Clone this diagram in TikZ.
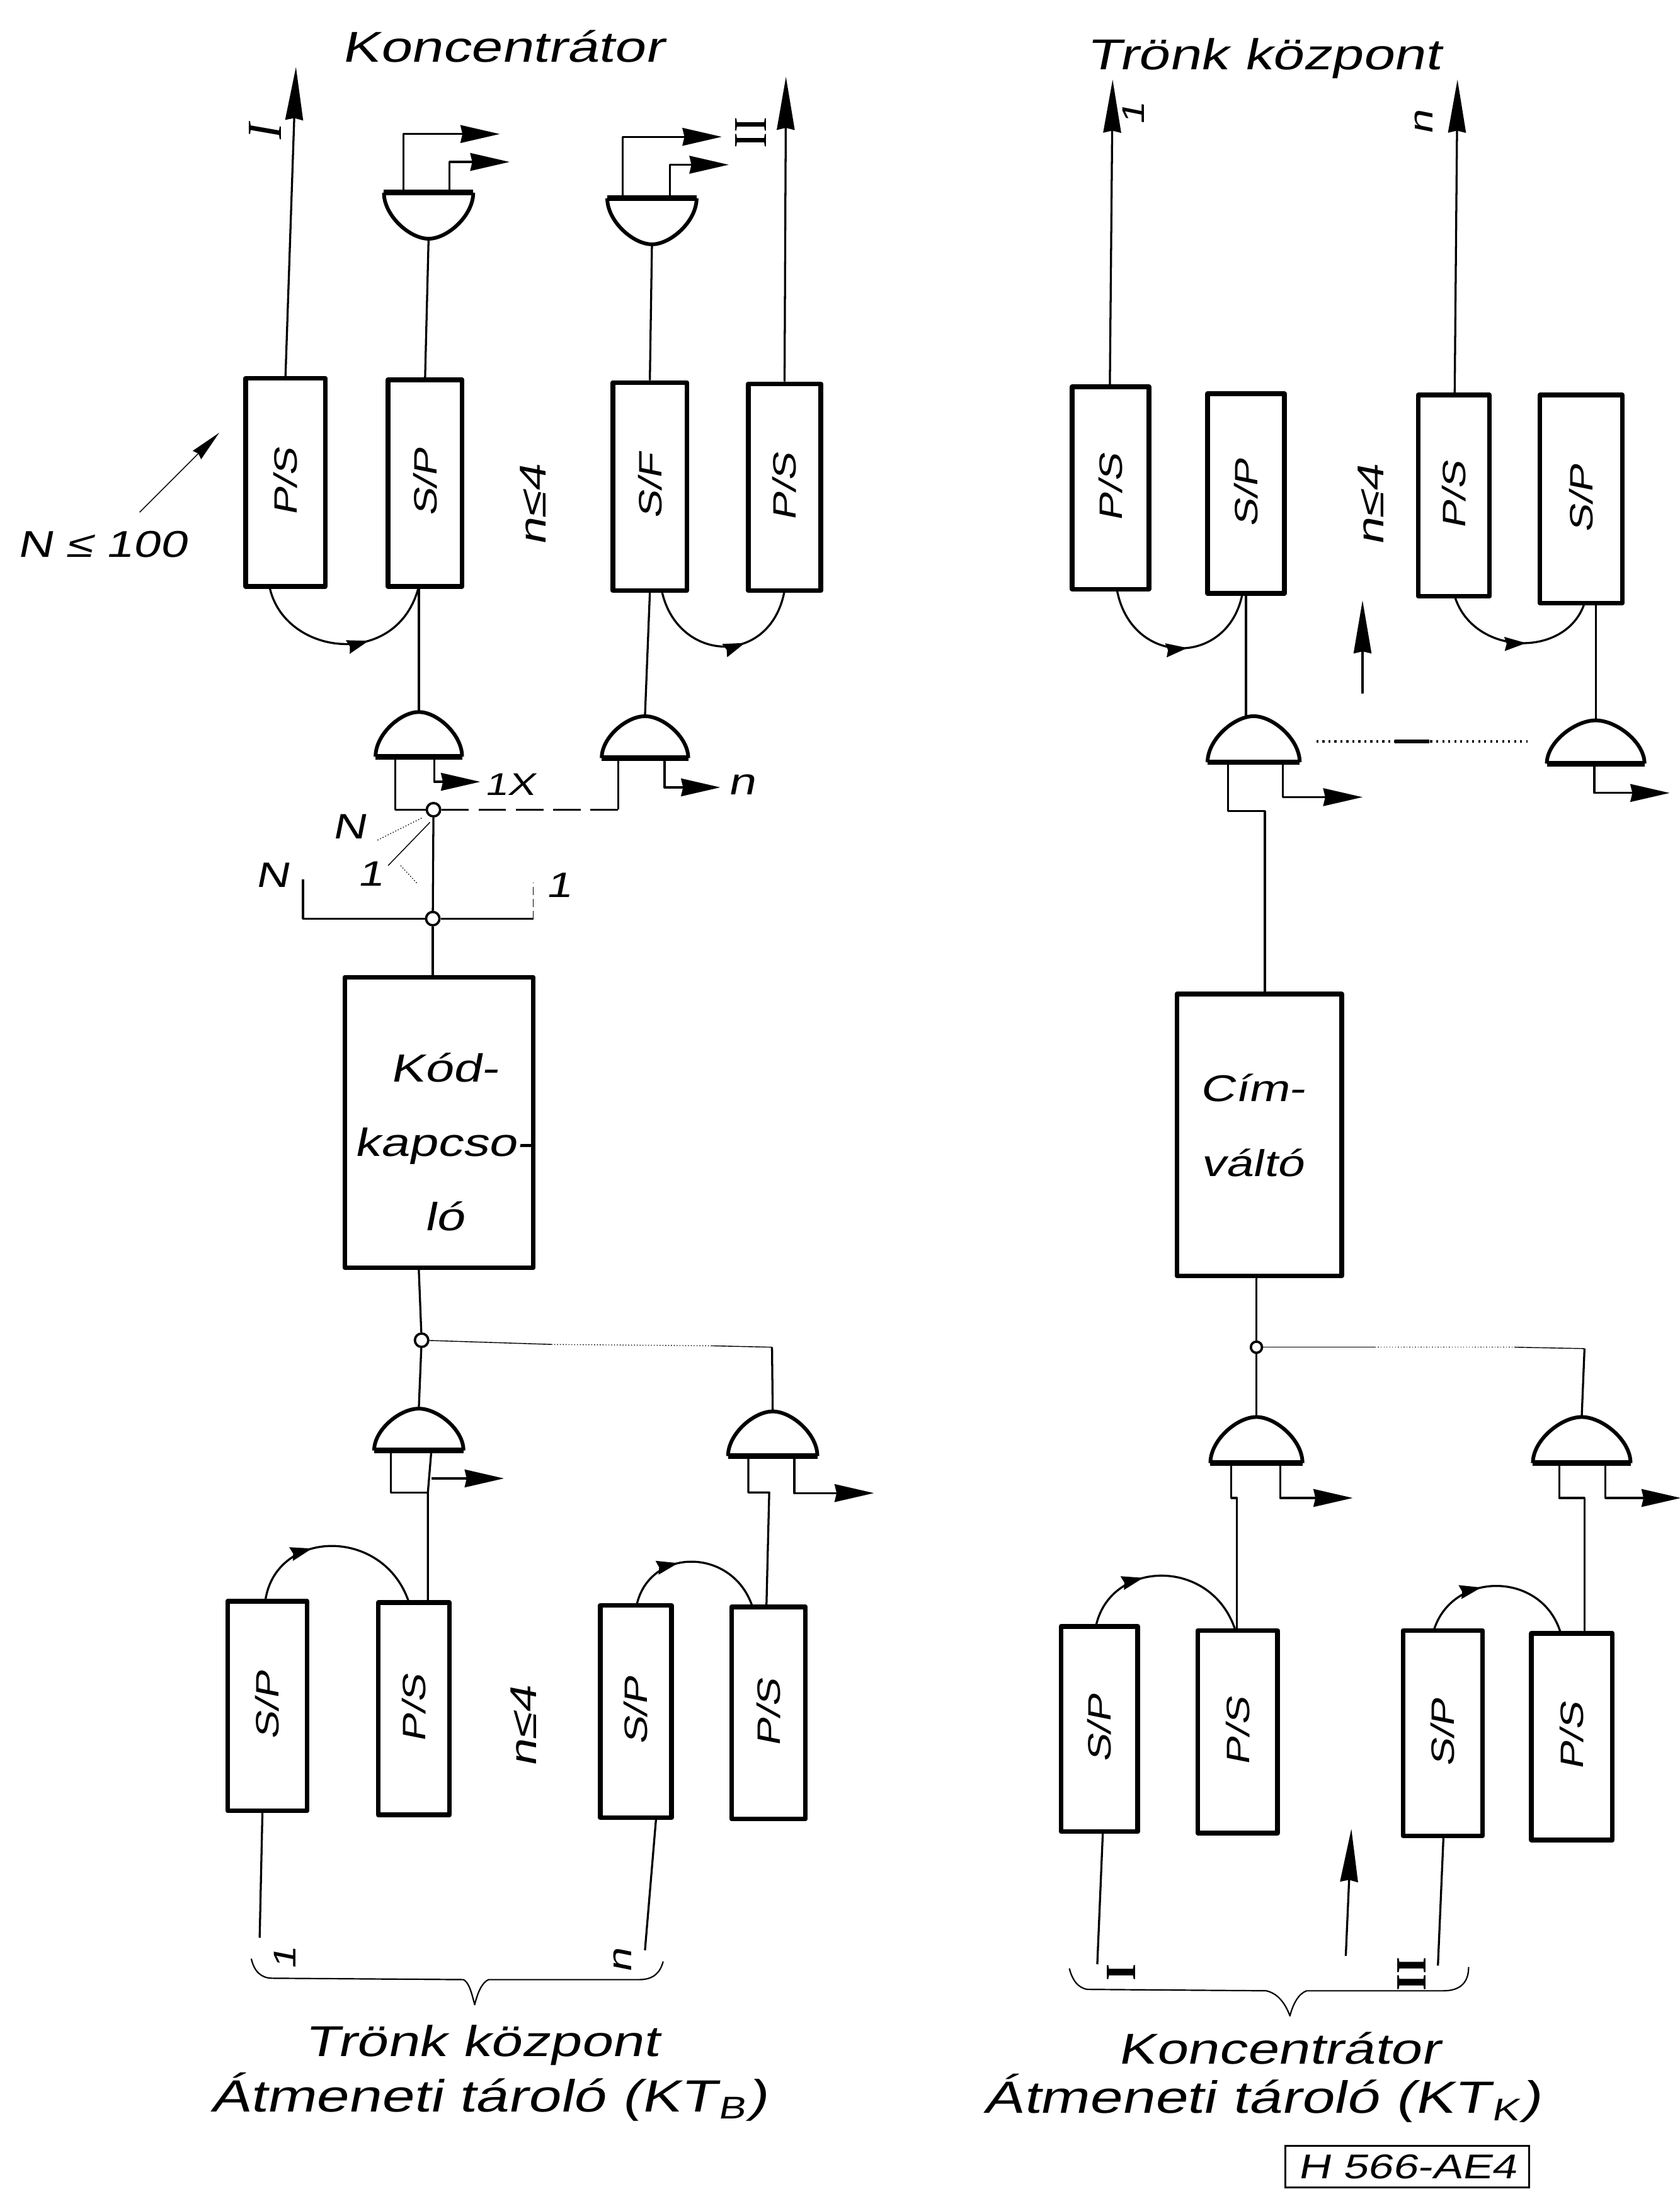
\documentclass[tikz,border=0pt]{standalone}
\usepackage{fontspec}
\usetikzlibrary{arrows.meta,decorations.markings,calc}
\newfontfamily\lab[FakeStretch=1.3,FakeSlant=0.2]{Liberation Sans}
\newfontfamily\rom{Liberation Serif}
\newcommand\fs[2]{\fontsize{#1}{#2}\selectfont}
\newcommand\blk[6]{%
  \pgfmathsetmacro\blkw{(#4-#2)*0.025}\pgfmathsetmacro\blkh{(#5-#3)*0.025}%
  \node[blk,minimum width=\blkw cm,minimum height=\blkh cm] (#1) at ({(#2+#4)/2},{(#3+#5)/2}) {#6};}
\newcommand\rl[1]{\rotatebox{90}{\lab\fs{16.5}{18}#1}}
% name, cx, yflat, yapex, half width
\newcommand\gate[5]{%
  \pgfmathsetmacro\gh{abs(#3-#4)*0.025}\pgfmathsetmacro\gw{#5*2*0.025}%
  \node[gatebox,minimum width=\gw cm,minimum height=\gh cm] (#1) at (#2,{(#3+#4)/2}) {};%
  \draw[gateline] ({#2-#5},#3) .. controls ({#2-#5},{#3+0.5*(#4-#3)}) and ({#2-0.42*#5},#4) .. (#2,#4)
    .. controls ({#2+0.42*#5},#4) and ({#2+#5},{#3+0.5*(#4-#3)}) .. ({#2+#5},#3);%
  \draw[gateflat] ({#2-#5},#3) -- ({#2+#5},#3);}
\tikzset{
  blk/.style={draw,line width=2.4pt,fill=white,inner sep=0pt,align=center,line join=round},
  gatebox/.style={inner sep=0pt,outer sep=0pt},
  gateline/.style={line width=1.9pt},
  gateflat/.style={line width=2.8pt,line cap=butt},
  wire/.style={line width=1.05pt,line join=round},
  thinw/.style={line width=.45pt},
  sig/.style={wire,-{Stealth[length=20pt,width=9pt,inset=1pt]}},
  longsig/.style={wire,-{Stealth[length=27pt,width=9pt,inset=1pt]}},
  jn/.style={circle,draw,line width=1.2pt,fill=white,inner sep=0pt,minimum size=.24cm},
  txt/.style={inner sep=0pt,align=center,font=\lab\fs{22}{26}},
  big/.style={inner sep=0pt,align=center,font=\lab\fs{23}{26}},
  small/.style={inner sep=0pt,align=center,font=\lab\fs{16}{16}},
  arcmark/.style={wire,postaction={decorate},decoration={markings,mark=at position #1 with {\arrow{Stealth[length=11pt,width=7pt,inset=1pt]}}}},
}
\begin{document}
\begin{tikzpicture}[x=0.025cm,y=-0.025cm]
\useasboundingbox (0,0) rectangle (1203,1568);

% ---------- texts
\node[txt] (t1) at (360,33) {Koncentrátor};
\node[txt] (t2) at (905,42) {Trönk központ};
\node[txt] (t3) at (345,1465) {Trönk központ};
\node[big] (t4) at (350,1502) {Átmeneti tároló (KT\kern1pt\raisebox{-.3ex}{\fs{16}{16}B}\kern1pt)};
\node[txt] (t5) at (916,1467) {Koncentrátor};
\node[big] (t6) at (904,1503) {Átmeneti tároló (KT\kern1pt\raisebox{-.3ex}{\fs{16}{16}K}\kern1pt)};
\node[draw,line width=1pt,inner sep=0pt,minimum width=4.36cm,minimum height=.75cm,font=\lab\fs{17.5}{19}] (t7) at (1008,1552) {H 566-AE4};
\node[inner sep=0pt,font=\lab\fs{19}{19}] (t8) at (73,390) {N ≤ 100};

% ---------- top left blocks
\blk{ps1}{176}{271}{233}{420}{\rl{P/S}}
\blk{sp1}{278}{272}{331}{420}{\rl{S/P}}
\blk{sf}{439}{274}{492}{423}{\rl{S/F}}
\blk{ps2}{536}{275}{588}{423}{\rl{P/S}}
\gate{gA}{307}{138}{171}{32}
\gate{gC0}{467}{142}{175}{32}
\gate{gB}{300}{542}{510}{31}
\gate{gC}{462}{543}{513}{31}
\node[jn] (j1) at (310.5,580) {};
\node[jn] (j2) at (310,658) {};
\blk{kod}{247}{700}{382}{908}{}
\node[inner sep=0pt,align=center,font=\lab\fs{20}{38}] (kodt) at (318,818) {Kód-\\kapcso-\\ló};
\node[jn] (j3) at (302,960) {};
\gate{gD}{300}{1039}{1009}{32}
\gate{gE}{553.5}{1043}{1011}{32}
\blk{sp3}{163}{1147}{220}{1297}{\rl{S/P}}
\blk{ps3}{271}{1148}{322}{1300}{\rl{P/S}}
\blk{sp4}{430}{1150}{481}{1302}{\rl{S/P}}
\blk{ps4}{524}{1151}{577}{1303}{\rl{P/S}}

% ---------- right blocks
\blk{ps5}{768}{277}{823}{422}{\rl{P/S}}
\blk{sp5}{865}{282}{920}{425}{\rl{S/P}}
\blk{ps6}{1016}{283}{1067}{427}{\rl{P/S}}
\blk{sp6}{1103}{283}{1162}{432}{\rl{S/P}}
\gate{gF}{898}{546}{513}{33}
\gate{gG}{1143}{547}{516}{35}
\blk{cim}{843}{712}{961}{914}{}
\node[inner sep=0pt,align=center,font=\lab\fs{19}{38}] (cimt) at (897,806) {Cím-\\váltó};
\node[jn,minimum size=.2cm] (j4) at (900,965) {};
\gate{gH}{900}{1048}{1015}{33}
\gate{gI}{1133}{1048}{1015}{35}
\blk{sp7}{760}{1165}{815}{1312}{\rl{S/P}}
\blk{ps7}{858}{1168}{915}{1313}{\rl{P/S}}
\blk{sp8}{1005}{1168}{1062}{1315}{\rl{S/P}}
\blk{ps8}{1097}{1170}{1155}{1318}{\rl{P/S}}

% ---------- named end points
\foreach \n/\x/\y in {
 eI/212/48, eII/563/55, a1/289/138, a1e/358/96, a2/322/138, a2e/365/116,
 c1/446/142, c1e/517/98, c2/480/142, c2e/522/118,
 b1/283/542, b2/311/542, b2e/344/560, d1/443/543, d2/476/543, d2e/516/564, dj/443/580,
 brL/217/630, brM/217/658, brR/382/658, brR2/382/632,
 h1/302/586, h1e/270/602, h2/308/589, h2e/278/620, h3/287/620, h3e/299/633,
 nA/100/367, nB/157/310,
 f1/280/1039, f2/309/1039, fj/306.5/1069, f2e/361/1059, f2s/309/1059,
 kd/300/908, kt/302/960, dA/395/963, dB/510/964, dC/553/965,
 k1/536/1043, k1b/536/1069, k1c/551/1069, ks/549/1151, k2/569/1043, k2e/626/1069.5,
 p1/193/420, p2/300/420, q1/474/423, q2/562/423,
 r1/190/1147, r2/293/1148, s1/456/1150, s2/539/1151,
 la/188/1297, lb/186/1388, lc/470/1302, ld/462/1397,
 u1/795/277, u1e/797/57, u2/1042/283, u2e/1044/57,
 v1/800/422, v2/890/425, w1/1042/427, w2/1135/432,
 upA/976/497, upB/976/430,
 x1/879.5/546, x1b/879.5/581, x1c/906/581, x2/919/546, x2e/976/571,
 y1/1142/547, y2e/1196/568, dt1/943/531, dt2/1094/531, dm1/999/531, dm2/1024/531,
 z1/882/1048, z1b/882/1073, z1c/886/1073, z2/917/1048, z2e/969/1073,
 m1/985/965, m2/1085/965, m3/1135/966,
 o1/1117/1048, o1b/1117/1073, o1c/1135/1073, o2/1150/1048, o2e/1204/1073,
 g1/785/1165, g2/885/1168, g3/1027/1168, g4/1118/1170,
 l1/790/1312, l2/786/1407, l3/1034/1315, l4/1030/1408, aT/968/1310, aB/964/1401,
 B1/180/1403, B2/195/1417, B3/332/1418, B4/340/1436, B5/350/1418, B6/458/1418, B7/475/1405,
 C1/766/1410, C2/779/1425, C3/907/1426, C4/924/1444, C5/936/1426, C6/1034/1426, C7/1052/1409}
 {\coordinate (\n) at (\x,\y);}

% ---------- top left connectors
\draw[longsig] (ps1.north) -- (eI);
\draw[longsig] (ps2.north) -- (eII);
\draw[wire] (sp1.north) -- (gA.south);
\draw[wire] (sf.north) -- (gC0.south);
\draw[sig] (a1) |- (a1e);
\draw[sig] (a2) |- (a2e);
\draw[sig] (c1) |- (c1e);
\draw[sig] (c2) |- (c2e);
\draw[arcmark=0.62] (p1) .. controls (203,470) and (285,480) .. (p2);
\draw[arcmark=0.62] (q1) .. controls (485,475) and (552,478) .. (q2);
\draw[wire] (sp1.south -| p2) -- (gB.north);
\draw[wire] (sf.south) -- (gC.north);
\draw[wire] (b1) |- (j1);
\draw[sig] (b2) |- (b2e);
\draw[wire,dash pattern=on 14pt off 5pt] (j1) -- (dj);
\draw[wire] (d1) -- (dj);
\draw[sig] (d2) |- (d2e);
\draw[wire] (j1) -- (j2);
\draw[wire] (j2) -- (kod.north -| j2);
\draw[wire] (brL) -- (brM) -- (j2);
\draw[wire] (j2) -- (brR);
\draw[thinw,dash pattern=on 4pt off 2pt] (brR) -- (brR2);
\draw[thinw,densely dotted] (h1) -- (h1e);
\draw[thinw] (h2) -- (h2e);
\draw[thinw,densely dotted] (h3) -- (h3e);
\draw[thinw,-{Stealth[length=16pt,width=6pt,inset=1pt]}] (nA) -- (nB);
\node[small,font=\lab\fs{18}{18}] (lN1) at (250,592) {N};
\node[small,font=\lab\fs{18}{18}] (l11) at (265,626) {1};
\node[small,font=\lab\fs{18}{18}] (lN2) at (195,627) {N};
\node[small,font=\lab\fs{18}{18}] (l12) at (400,634) {1};
\node[small] (l1x) at (365,562) {1X};
\node[small,font=\lab\fs{19}{19}] (ln) at (531,562) {n};
\node[inner sep=0pt,rotate=90,font=\rom\itshape\fs{25}{25}] (lI) at (190,94) {I};
\node[inner sep=0pt,rotate=90,font=\rom\fs{24}{24}] (lII) at (538,95) {II};
\node[small,rotate=90,font=\lab\fs{19}{19}] (n1) at (382,362) {n≤4};
\node[small,rotate=90,font=\lab\fs{19}{19}] (n2) at (375,1237) {n≤4};
\node[small,rotate=90,font=\lab\fs{19}{19}] (n3) at (982,362) {n≤4};

% ---------- bottom left connectors
\draw[wire] (kod.south -| kd) -- (j3);
\draw[wire] (j3) -- (gD.north);
\draw[thinw] (j3) -- (dA);
\draw[thinw,densely dotted] (dA) -- (dB);
\draw[thinw] (dB) -- (dC);
\draw[wire] (dC) -- (gE.north);
\draw[wire] (f1) |- (fj);
\draw[wire] (f2) -- (fj) -- (ps3.north -| fj);
\draw[sig] (f2s) -- (f2e);
\draw[wire] (k1) -- (k1b) -- (k1c) -- (ks);
\draw[sig] (k2) |- (k2e);
\draw[arcmark=0.38] (r1) .. controls (197,1095) and (275,1093) .. (r2);
\draw[arcmark=0.4] (s1) .. controls (465,1108) and (525,1108) .. (s2);
\draw[wire] (la) -- (lb);
\draw[wire] (lc) -- (ld);
\draw[wire,line width=.7pt] (B1) .. controls (182,1412) and (187,1417) .. (B2) -- (B3) .. controls (336,1420) and (338,1428) .. (B4) .. controls (342,1428) and (345,1420) .. (B5) -- (B6) .. controls (468,1418) and (473,1413) .. (B7);
\node[small,rotate=90] (b1l) at (204,1403) {1};
\node[small,rotate=90,font=\lab\fs{17}{17}] (bnl) at (446,1405) {n};

% ---------- right connectors
\draw[longsig] (u1) -- (u1e);
\draw[longsig] (u2) -- (u2e);
\node[small,rotate=90] (rl1) at (812,82) {1};
\node[small,rotate=90,font=\lab\fs{17}{17}] (rln) at (1020,88) {n};
\draw[arcmark=0.55] (v1) .. controls (810,478) and (880,478) .. (v2);
\draw[arcmark=0.55] (w1) .. controls (1055,470) and (1122,472) .. (w2);
\draw[longsig] (upA) -- (upB);
\draw[wire] (gF.north -| sp5) -- (sp5.south);
\draw[wire] (gG.north) -- (sp6.south -| gG);
\draw[wire] (x1) -- (x1b) -- (x1c) -- (cim.north -| x1c);
\draw[sig] (x2) |- (x2e);
\draw[sig] (y1) |- (y2e);
\draw[wire,dotted,line width=1.2pt] (dt1) -- (dt2);
\draw[line width=2pt] (dm1) -- (dm2);
\draw[wire] (cim.south -| j4) -- (j4);
\draw[wire] (j4) -- (gH.north);
\draw[thinw] (j4) -- (m1);
\draw[thinw,densely dotted] (m1) -- (m2);
\draw[thinw] (m2) -- (m3);
\draw[wire] (m3) -- (gI.north);
\draw[wire] (z1) -- (z1b) -- (z1c) -- (ps7.north -| z1c);
\draw[sig] (z2) |- (z2e);
\draw[wire] (o1) -- (o1b) -- (o1c) -- (ps8.north -| o1c);
\draw[sig] (o2) |- (o2e);
\draw[arcmark=0.38] (g1) .. controls (795,1117) and (868,1115) .. (g2);
\draw[arcmark=0.4] (g3) .. controls (1040,1125) and (1105,1125) .. (g4);
\draw[wire] (l1) -- (l2);
\draw[wire] (l3) -- (l4);
\draw[longsig] (aB) -- (aT);
\draw[wire,line width=.7pt] (C1) .. controls (768,1418) and (772,1424) .. (C2) -- (C3) .. controls (916,1428) and (921,1436) .. (C4) .. controls (926,1436) and (930,1428) .. (C5) -- (C6) .. controls (1046,1426) and (1052,1420) .. (C7);
\node[inner sep=0pt,rotate=90,font=\rom\bfseries\fs{22}{22}] (lI2) at (803,1413) {I};
\node[inner sep=0pt,rotate=90,font=\rom\bfseries\fs{22}{22}] (lII2) at (1011,1414) {II};
\end{tikzpicture}
\end{document}
